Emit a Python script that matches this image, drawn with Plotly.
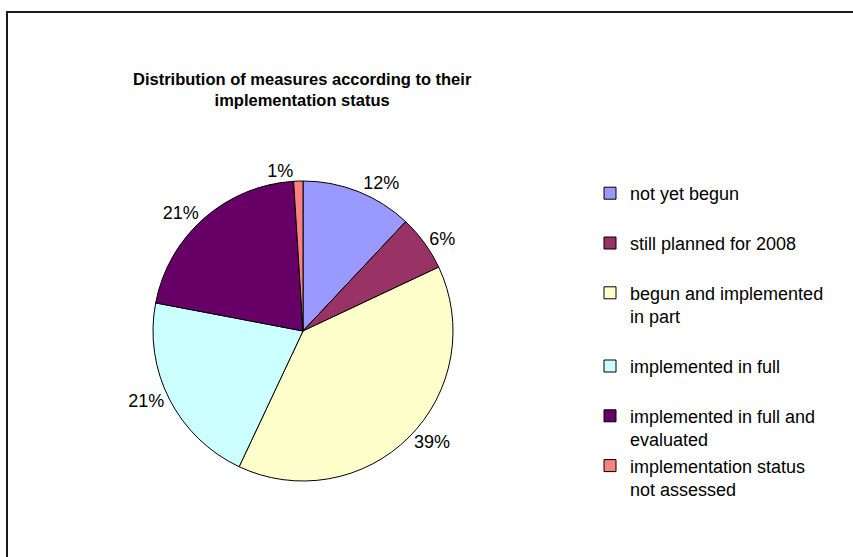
import plotly.graph_objects as go

# ---- data ----
labels = [
    "not yet begun",
    "still planned for 2008",
    "begun and implemented in part",
    "implemented in full",
    "implemented in full and evaluated",
    "implementation status not assessed",
]
# legend label layout (line breaks as in the reference legend)
legend_text = [
    "not yet begun<br>\u00a0",
    "still planned for 2008<br>\u00a0",
    "begun and implemented<br>in part<br>\u00a0",
    "implemented in full<br>\u00a0",
    "implemented in full and<br>evaluated",
    "implementation status<br>not assessed",
]
values = [12, 6, 39, 21, 21, 1]
colors = ["#9999FF", "#993366", "#FFFFCC", "#CCFFFF", "#660066", "#FF8080"]
title_text = "Distribution of measures according to their<br>implementation status"

W, H = 853, 557
FONT = "Liberation Sans, Arial, sans-serif"

# pie placement (pixels)
cx, cy, r = 303, 331, 150

fig = go.Figure()
fig.add_trace(go.Pie(
    labels=legend_text,
    values=values,
    customdata=labels,
    sort=False,
    direction="clockwise",
    rotation=0,
    marker=dict(colors=colors, line=dict(color="black", width=1)),
    textinfo="percent",
    texttemplate="%{percent:.0%}",
    textposition="outside",
    textfont=dict(family=FONT, size=18, color="black"),
    hovertemplate="%{customdata}: %{percent}<extra></extra>",
    domain=dict(x=[(cx - r) / W, (cx + r) / W],
                y=[(H - cy - r) / H, (H - cy + r) / H]),
))

fig.update_layout(
    width=W, height=H,
    margin=dict(l=0, r=0, t=0, b=0),
    paper_bgcolor="white",
    plot_bgcolor="white",
    showlegend=True,
    legend=dict(
        x=590 / W, y=1 - 175 / H,
        xanchor="left", yanchor="top",
        valign="top",
        font=dict(family=FONT, size=18, color="black"),
        bgcolor="rgba(0,0,0,0)",
        traceorder="normal",
    ),
    annotations=[dict(
        text="<b>" + title_text + "</b>",
        x=302 / W, y=1 - 90 / H,
        xref="paper", yref="paper",
        xanchor="center", yanchor="middle",
        showarrow=False,
        font=dict(family=FONT, size=16.5, color="black"),
        align="center",
    )],
    shapes=[dict(
        type="rect", xref="paper", yref="paper",
        x0=7 / W, x1=1.05, y0=-0.05, y1=1 - 12 / H,
        line=dict(color="#1a1a1a", width=2),
        fillcolor="rgba(0,0,0,0)",
        layer="above",
    )],
)

fig.write_html("out.html")
